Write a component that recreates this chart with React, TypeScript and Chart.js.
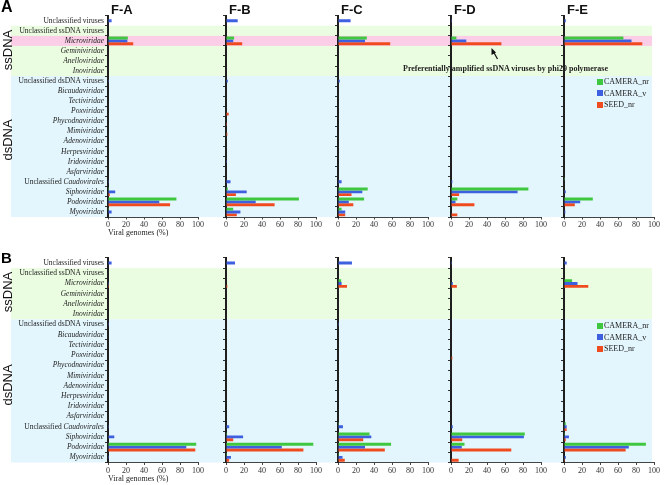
import React, { useEffect, useRef } from "react";
import { Chart, registerables } from "chart.js";
Chart.register(...registerables);

// ---------- data ----------
const categories = [
  "Unclassified viruses",
  "Unclassified ssDNA viruses",
  "Microviridae",
  "Geminiviridae",
  "Anelloviridae",
  "Inoviridae",
  "Unclassified dsDNA viruses",
  "Bicaudaviridae",
  "Tectiviridae",
  "Poxviridae",
  "Phycodnaviridae",
  "Mimiviridae",
  "Adenoviridae",
  "Herpesviridae",
  "Iridoviridae",
  "Asfarviridae",
  "Unclassified Caudovirales",
  "Siphoviridae",
  "Podoviridae",
  "Myoviridae",
];
// character index where italic text starts (-1 = none)
const italicFrom = [-1, -1, 0, 0, 0, 0, -1, 0, 0, 0, 0, 0, 0, 0, 0, 0, 13, 0, 0, 0];

const subPanels = ["F-A", "F-B", "F-C", "F-D", "F-E"];
const seriesNames = ["CAMERA_nr", "CAMERA_v", "SEED_nr"];
const xTicks = [0, 20, 40, 60, 80, 100];

// Panel A
const A_FA_CAMERA_nr = [0, 0, 22, 0, 0, 0, 0, 0, 0, 0, 0, 0, 0, 0, 0, 0, 0, 1, 76, 1];
const A_FA_CAMERA_v = [4, 0, 21.5, 0, 0, 0, 1, 0, 0, 0, 0, 0, 0, 0, 0, 0, 1, 8, 57, 4];
const A_FA_SEED_nr = [0, 0, 28, 0, 0, 0, 0, 0, 0, 0, 0, 0, 0, 0, 0, 0, 0, 2, 69, 0];

const A_FB_CAMERA_nr = [0, 0, 9, 0, 0, 0, 0, 0, 0, 0, 0, 0, 0, 0, 0, 0, 0, 2, 81, 8];
const A_FB_CAMERA_v = [13, 0, 8, 0, 0, 0, 2, 0, 0, 0, 0, 0, 0, 0, 1, 0, 5, 23, 33, 16];
const A_FB_SEED_nr = [0, 0, 18, 0, 0, 0, 0, 0, 0, 3, 1, 1.5, 0, 0, 0, 0, 0, 11, 54, 12];

const A_FC_CAMERA_nr = [0, 0, 32, 0, 0, 0, 0, 0, 0, 0, 0, 0, 0, 0, 0, 0, 0, 33, 29, 4];
const A_FC_CAMERA_v = [14, 0, 30, 0, 0, 0, 2, 0, 0, 0, 0, 0, 0, 0, 0, 0, 4, 27, 12, 8];
const A_FC_SEED_nr = [0, 0, 58, 0, 0, 0, 0, 0, 0, 0, 0, 0, 0, 0, 0, 0, 0, 15, 17, 8];

const A_FD_CAMERA_nr = [0, 0, 6, 0, 0, 0, 0, 0, 0, 0, 0, 0, 0, 0, 0, 0, 0, 86, 7, 0];
const A_FD_CAMERA_v = [1, 0, 17, 0, 0, 0, 0, 0, 0, 0, 0, 0, 0, 0, 0, 0, 1.5, 74, 5, 0];
const A_FD_SEED_nr = [0, 0, 56, 0, 0, 0, 0, 0, 0, 0, 0, 0, 0, 0, 0, 0, 0, 9, 26, 7];

const A_FE_CAMERA_nr = [0, 0, 66, 0, 0, 0, 0, 0, 0, 0, 0, 0, 0, 0, 0, 0, 1, 0, 32, 0];
const A_FE_CAMERA_v = [2, 0, 75, 0, 0, 0, 0, 0, 0, 0, 0, 0, 0, 0, 0, 0, 0, 2, 18, 1.5];
const A_FE_SEED_nr = [0, 0, 87, 0, 0, 0, 0, 0, 0, 0, 0, 0, 0, 0, 0, 0, 0, 0, 12, 0];

// Panel B
const B_FA_CAMERA_nr = [0, 0, 0, 0, 0, 0, 0, 0, 0, 0, 0, 0, 0, 0, 0, 0, 0, 0, 98, 0];
const B_FA_CAMERA_v = [4, 0, 1, 0, 0, 0, 1, 0, 0, 0, 0, 0, 0, 0, 0, 0, 1, 7, 87, 1];
const B_FA_SEED_nr = [0, 0, 1, 0, 0, 0, 0, 0, 0, 0, 0, 0, 0, 0, 0, 0, 0, 0, 97, 0];

const B_FB_CAMERA_nr = [0, 0, 0, 0, 0, 0, 0, 0, 0, 0, 0, 0, 0, 0, 0, 0, 0, 1, 97, 1];
const B_FB_CAMERA_v = [10, 0, 0, 0, 0, 0, 0, 0, 0, 0, 0, 0, 0, 0, 0, 0, 3.5, 19, 62, 5.5];
const B_FB_SEED_nr = [0, 0, 1.5, 0, 0, 0, 0, 0, 0, 0, 0, 0, 0, 0, 0, 0, 0, 8, 86, 3.5];

const B_FC_CAMERA_nr = [0, 0, 3.5, 0, 0, 0, 0, 0, 0, 0, 0, 0, 0, 0, 0, 0, 1, 35, 59, 1];
const B_FC_CAMERA_v = [15.5, 0, 4, 0, 0, 0, 1, 0, 0, 0, 0, 0, 0, 0, 0, 0, 5.5, 37, 30, 5];
const B_FC_SEED_nr = [0, 0, 10, 0, 0, 0, 0, 0, 0, 0, 0, 0, 0, 0, 0, 0, 0, 28, 52, 7.5];

const B_FD_CAMERA_nr = [0, 0, 0, 0, 0, 0, 0, 0, 0, 0, 0, 0, 0, 0, 0, 0, 0, 82, 15, 0];
const B_FD_CAMERA_v = [1, 0, 2, 0, 0, 0, 0, 0, 0, 0, 0, 0, 0, 0, 0, 0, 2, 81, 12, 0];
const B_FD_SEED_nr = [0.5, 0, 6.5, 0, 0, 0, 0, 0, 0, 1.5, 0, 0, 0, 0, 0, 0, 0, 12.5, 67, 8.5];

const B_FE_CAMERA_nr = [0, 0, 9, 0, 0, 0, 0, 0, 0, 0, 0, 0, 0, 0, 0, 0, 2, 1, 91, 0];
const B_FE_CAMERA_v = [3, 0, 15, 0, 0, 0, 0, 0, 0, 0, 0, 0, 0, 0, 0, 0, 3, 5.5, 72, 2];
const B_FE_SEED_nr = [0, 0, 27, 0, 0, 0, 0, 0, 0, 0, 0, 0, 0, 0, 0, 0, 3, 2, 68.5, 1];

const panelAData = [
  [A_FA_CAMERA_nr, A_FA_CAMERA_v, A_FA_SEED_nr],
  [A_FB_CAMERA_nr, A_FB_CAMERA_v, A_FB_SEED_nr],
  [A_FC_CAMERA_nr, A_FC_CAMERA_v, A_FC_SEED_nr],
  [A_FD_CAMERA_nr, A_FD_CAMERA_v, A_FD_SEED_nr],
  [A_FE_CAMERA_nr, A_FE_CAMERA_v, A_FE_SEED_nr],
];
const panelBData = [
  [B_FA_CAMERA_nr, B_FA_CAMERA_v, B_FA_SEED_nr],
  [B_FB_CAMERA_nr, B_FB_CAMERA_v, B_FB_SEED_nr],
  [B_FC_CAMERA_nr, B_FC_CAMERA_v, B_FC_SEED_nr],
  [B_FD_CAMERA_nr, B_FD_CAMERA_v, B_FD_SEED_nr],
  [B_FE_CAMERA_nr, B_FE_CAMERA_v, B_FE_SEED_nr],
];

// ---------- style / layout ----------
const COLORS = ["#3fc83f", "#3d5fe0", "#ef4b1f"];
const BAND_GREEN = "#ebfde0";
const BAND_BLUE = "#e3f6fd";
const BAND_PINK = "#fbcde6";
const SERIF = "'Liberation Serif', 'Times New Roman', serif";
const SANS = "'Liberation Sans', Arial, sans-serif";

const ZERO = [108, 226, 338, 451, 564];
const PLOT_W = 90;
const CANVAS_L = [0, 212, 327, 440, 552];
const CANVAS_R = [212, 327, 440, 552, 664];
const Y_AXIS_W = 4;
const BAND_LEFT = 11;
const BAND_RIGHT = 652;

type PanelGeom = {
  canvasTop: number;
  canvasH: number;
  chartTop: number;
  chartBottom: number;
  titlePad: number;
  pink: boolean;
};
const GEOM_A: PanelGeom = { canvasTop: 0, canvasH: 242, chartTop: 15.7, chartBottom: 217, titlePad: 4, pink: true };
const GEOM_B: PanelGeom = { canvasTop: 242, canvasH: 243, chartTop: 257.9, chartBottom: 462.5, titlePad: 1.5, pink: false };

function SubChart({ geom, k, series }: { geom: PanelGeom; k: number; series: number[][] }) {
  const ref = useRef<HTMLCanvasElement>(null);
  const left = CANVAS_L[k];
  const W = CANVAS_R[k] - CANVAS_L[k];
  const H = geom.canvasH;
  useEffect(() => {
    if (!ref.current) return;
    const bx0 = (k === 0 ? BAND_LEFT : left) - left;
    const bx1 = (k === 4 ? BAND_RIGHT : CANVAS_R[k]) - left;
    const bandPlugin = {
      id: "bands",
      beforeDraw(chart: any) {
        const { ctx } = chart;
        const y = chart.scales.y;
        const half = (y.getPixelForValue(1) - y.getPixelForValue(0)) / 2;
        const fill = (a: number, b: number, c: string) => {
          const t = y.getPixelForValue(a) - half;
          const btm = y.getPixelForValue(b) + half;
          ctx.save();
          ctx.fillStyle = c;
          ctx.fillRect(bx0, t, bx1 - bx0, btm - t);
          ctx.restore();
        };
        fill(1, 5, BAND_GREEN);
        fill(6, 19, BAND_BLUE);
        if (geom.pink) fill(2, 2, BAND_PINK);
      },
    };
    const labelPlugin = {
      id: "catLabels",
      afterDraw(chart: any) {
        if (k !== 0) return;
        const { ctx } = chart;
        const y = chart.scales.y;
        const xr = ZERO[0] - Y_AXIS_W - left;
        ctx.save();
        ctx.fillStyle = "#222";
        ctx.textBaseline = "middle";
        ctx.textAlign = "left";
        categories.forEach((c, i) => {
          const py = y.getPixelForValue(i);
          const cut = italicFrom[i];
          const normal = cut < 0 ? c : c.slice(0, cut);
          const ital = cut < 0 ? "" : c.slice(cut);
          ctx.font = `7.5px ${SERIF}`;
          const wn = ctx.measureText(normal).width;
          ctx.font = `italic 7.5px ${SERIF}`;
          const wi = ctx.measureText(ital).width;
          let x = xr - wn - wi;
          ctx.font = `7.5px ${SERIF}`;
          ctx.fillText(normal, x, py);
          x += wn;
          ctx.font = `italic 7.5px ${SERIF}`;
          ctx.fillText(ital, x, py);
        });
        ctx.restore();
      },
    };
    const chart = new Chart(ref.current, {
      type: "bar",
      data: {
        labels: categories,
        datasets: series.map((d, s) => ({
          label: seriesNames[s],
          data: d,
          backgroundColor: COLORS[s],
          borderWidth: 0,
          categoryPercentage: 0.85,
          barPercentage: 1,
        })),
      },
      options: {
        indexAxis: "y",
        responsive: false,
        maintainAspectRatio: false,
        animation: false,
        devicePixelRatio: 1,
        layout: {
          padding: {
            left: ZERO[k] - left - Y_AXIS_W,
            right: CANVAS_R[k] - (ZERO[k] + PLOT_W),
            top: geom.chartTop - geom.canvasTop,
            bottom: 0,
          },
        },
        plugins: { legend: { display: false }, tooltip: { enabled: false }, title: { display: false } },
        scales: {
          x: {
            type: "linear",
            min: 0,
            max: 100,
            afterBuildTicks: (s: any) => {
              s.ticks = xTicks.map((v) => ({ value: v }));
            },
            ticks: { font: { family: SERIF, size: 8 }, color: "#333", padding: 1, maxRotation: 0, autoSkip: false },
            grid: { display: true, drawOnChartArea: false, drawTicks: true, tickLength: 2.5, color: "#444", lineWidth: 1 },
            border: { display: true, color: "#444", width: 1 },
            title: {
              display: k === 0,
              text: "Viral genomes (%)",
              align: "start",
              font: { family: SERIF, size: 8 },
              color: "#222",
              padding: { top: 0, bottom: geom.titlePad },
            },
            afterFit: (s: any) => {
              s.height = geom.canvasTop + geom.canvasH - geom.chartBottom;
            },
          },
          y: {
            type: "category",
            position: "left",
            ticks: { display: false, autoSkip: false },
            grid: { display: true, drawOnChartArea: false, tickLength: 3, color: "#333", lineWidth: 1, offset: true },
            border: { display: true, color: "#1e1e1e", width: 2 },
            afterFit: (s: any) => {
              s.width = Y_AXIS_W;
            },
          },
        },
      } as any,
      plugins: [bandPlugin, labelPlugin],
    });
    return () => chart.destroy();
  }, []);
  return (
    <canvas
      ref={ref}
      width={W}
      height={H}
      style={{ position: "absolute", left, top: geom.canvasTop, width: W, height: H }}
    />
  );
}

function Legend({ top }: { top: number }) {
  return (
    <div style={{ position: "absolute", left: 597, top, fontFamily: SERIF, fontSize: 8, color: "#222" }}>
      {seriesNames.map((n, i) => (
        <div key={n} style={{ display: "flex", alignItems: "center", height: 11.5, lineHeight: "11.5px" }}>
          <span style={{ display: "inline-block", width: 6, height: 6, background: COLORS[i], marginRight: 1 }} />
          <span>{n}</span>
        </div>
      ))}
    </div>
  );
}

function SideLabel({ text, cx, cy }: { text: string; cx: number; cy: number }) {
  return (
    <div
      style={{
        position: "absolute",
        left: cx,
        top: cy,
        transform: "translate(-50%, -50%) rotate(-90deg)",
        fontFamily: SANS,
        fontSize: 13,
        lineHeight: "13px",
        color: "#111",
        whiteSpace: "nowrap",
      }}
    >
      {text}
    </div>
  );
}

export default function App() {
  const titleStyle: React.CSSProperties = {
    position: "absolute",
    top: 3,
    fontFamily: SANS,
    fontWeight: "bold",
    fontSize: 13,
    lineHeight: "13px",
    color: "#111",
  };
  return (
    <div style={{ position: "absolute", left: 0, top: 0, width: 664, height: 485, background: "#fff", overflow: "hidden" }}>
      {panelAData.map((s, k) => (
        <SubChart key={"a" + k} geom={GEOM_A} k={k} series={s} />
      ))}
      {panelBData.map((s, k) => (
        <SubChart key={"b" + k} geom={GEOM_B} k={k} series={s} />
      ))}
      <div style={{ position: "absolute", left: 1, top: -1, fontFamily: SANS, fontWeight: "bold", fontSize: 16, lineHeight: "16px" }}>A</div>
      <div style={{ position: "absolute", left: 1, top: 250, fontFamily: SANS, fontWeight: "bold", fontSize: 15, lineHeight: "15px" }}>B</div>
      {subPanels.map((t, k) => (
        <div key={t} style={{ ...titleStyle, left: ZERO[k] + 3 }}>{t}</div>
      ))}
      <SideLabel text="ssDNA" cx={7} cy={50} />
      <SideLabel text="dsDNA" cx={7} cy={140} />
      <SideLabel text="ssDNA" cx={7} cy={292} />
      <SideLabel text="dsDNA" cx={7} cy={385} />
      <Legend top={76} />
      <Legend top={320} />
      <div
        style={{
          position: "absolute",
          left: 403,
          top: 64,
          fontFamily: SERIF,
          fontSize: 8,
          lineHeight: "10px",
          fontWeight: "bold",
          color: "#222",
          whiteSpace: "nowrap",
        }}
      >
        Preferentially amplified ssDNA viruses by phi29 polymerase
      </div>
      <svg width={664} height={485} style={{ position: "absolute", left: 0, top: 0, pointerEvents: "none" }}>
        <line x1={497.5} y1={59} x2={493} y2={51} stroke="#111" strokeWidth={1.3} />
        <polygon points="491.5,48 491.5,55 496,52.5" fill="#111" />
      </svg>
    </div>
  );
}
